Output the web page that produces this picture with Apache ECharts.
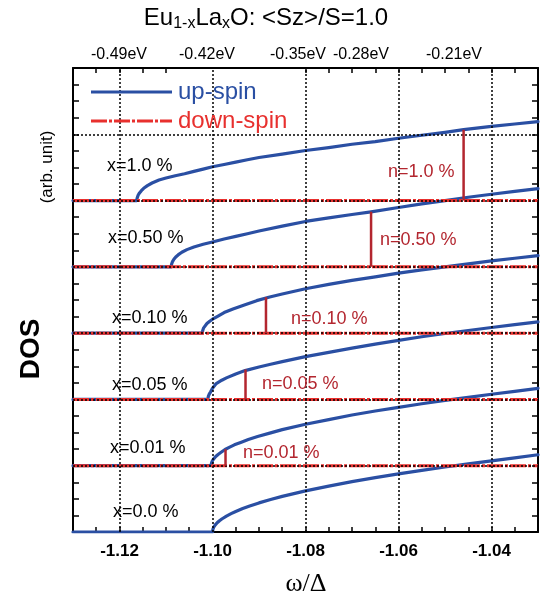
<!DOCTYPE html>
<html><head><meta charset="utf-8">
<script src="https://cdn.jsdelivr.net/npm/echarts@6/dist/echarts.min.js"></script>
<style>html,body{margin:0;padding:0;background:#fff}#c{width:544px;height:602px}</style>
</head><body><div id="c"></div>
<script>
// ---------- data ----------
const panelLabels = ['x=0.0 %','x=0.01 %','x=0.05 %','x=0.10 %','x=0.50 %','x=1.0 %'];
const panelOffsets = [0,1,2,3,4,5];

// up-spin DOS (omega/Delta, DOS) per doping
const upW_00 = [-1.13,-1.1,-1.0999,-1.0997,-1.0994,-1.099,-1.0985,-1.098,-1.097,-1.096,-1.095,-1.0935,-1.092,-1.09,-1.0875,-1.085,-1.08,-1.075,-1.07,-1.065,-1.06,-1.055,-1.05,-1.045,-1.04,-1.035,-1.03];
const upD_00 = [0,0,0.044,0.076,0.107,0.139,0.17,0.196,0.24,0.277,0.31,0.354,0.392,0.439,0.49,0.537,0.62,0.693,0.76,0.82,0.877,0.93,0.98,1.028,1.074,1.118,1.165];
const upW_01 = [-1.13,-1.1003,-1.1002,-1.1,-1.0997,-1.0993,-1.0988,-1.0983,-1.0973,-1.0963,-1.0953,-1.0938,-1.0923,-1.0903,-1.0875,-1.085,-1.08,-1.075,-1.07,-1.065,-1.06,-1.055,-1.05,-1.045,-1.04,-1.035,-1.03];
const upD_01 = [0,0,0.044,0.076,0.107,0.139,0.17,0.196,0.245,0.28,0.315,0.355,0.395,0.44,0.495,0.545,0.625,0.695,0.765,0.825,0.88,0.935,0.985,1.032,1.078,1.122,1.168];
const upW_05 = [-1.13,-1.101,-1.1009,-1.1007,-1.1004,-1.1,-1.0992,-1.098,-1.097,-1.095,-1.093,-1.09,-1.0875,-1.085,-1.08,-1.075,-1.07,-1.065,-1.06,-1.055,-1.05,-1.045,-1.04,-1.035,-1.03];
const upD_05 = [0,0,0.045,0.08,0.115,0.17,0.24,0.29,0.325,0.385,0.435,0.49,0.53,0.57,0.645,0.71,0.775,0.835,0.89,0.945,0.995,1.04,1.085,1.128,1.17];
const upW_10 = [-1.13,-1.1022,-1.1021,-1.1019,-1.1016,-1.1012,-1.1006,-1.1,-1.099,-1.0975,-1.0956,-1.093,-1.0905,-1.0877,-1.085,-1.08,-1.075,-1.07,-1.065,-1.06,-1.055,-1.05,-1.045,-1.04,-1.035,-1.03];
const upD_10 = [0,0,0.04,0.08,0.11,0.145,0.18,0.21,0.25,0.31,0.365,0.43,0.49,0.545,0.59,0.67,0.735,0.795,0.85,0.905,0.955,1.0,1.045,1.09,1.13,1.17];
const upW_50 = [-1.13,-1.1089,-1.1088,-1.1086,-1.1083,-1.1079,-1.1074,-1.1066,-1.1055,-1.104,-1.102,-1.1,-1.0975,-1.095,-1.0925,-1.09,-1.085,-1.08,-1.075,-1.07,-1.0659,-1.06,-1.055,-1.05,-1.045,-1.04,-1.035,-1.03];
const upD_50 = [0,0,0.04,0.08,0.115,0.15,0.18,0.22,0.26,0.30,0.34,0.375,0.42,0.46,0.50,0.54,0.615,0.685,0.74,0.79,0.83,0.895,0.95,1.0,1.05,1.095,1.14,1.18];
const upW_100 = [-1.13,-1.1163,-1.1162,-1.116,-1.1157,-1.1153,-1.1148,-1.114,-1.113,-1.1115,-1.11,-1.108,-1.106,-1.104,-1.102,-1.1,-1.0975,-1.095,-1.0925,-1.09,-1.085,-1.08,-1.075,-1.07,-1.065,-1.06,-1.055,-1.05,-1.046,-1.04,-1.035,-1.03];
const upD_100 = [0,0,0.04,0.08,0.115,0.15,0.185,0.225,0.265,0.31,0.34,0.375,0.405,0.44,0.475,0.51,0.545,0.58,0.615,0.65,0.70,0.755,0.80,0.85,0.89,0.94,0.985,1.03,1.07,1.12,1.155,1.19];

// down-spin DOS is zero over the whole window (doped panels)
const downW = [-1.13,-1.03];
const downD = [0,0];
const downPanels = [1,2,3,4,5];

// filling n markers
const nLabels = ['n=0.01 %','n=0.05 %','n=0.10 %','n=0.50 %','n=1.0 %'];
const nOmega  = [-1.0972,-1.0929,-1.0885,-1.0659,-1.046];
const nHeight = [0.25,0.45,0.54,0.83,1.07];
const nPanel  = [1,2,3,4,5];

// axes
const xTicks = [-1.12,-1.10,-1.08,-1.06,-1.04];
const topTickLabels = ['-0.49eV','-0.42eV','-0.35eV','-0.28eV','-0.21eV'];
const yGridLines = [1,2,3,4,5,6];
const legendNames = ['up-spin','down-spin'];

// ---------- styles / layout ----------
const BLUE = '#2a4fa3', RED = '#e8302e', DARKRED = '#b3262f';
const FONT = 'Liberation Sans, Arial, sans-serif';
const RED_DASH = [16,2,3,2];
const panelLabelPos = [[113,512],[110,448],[112,385],[112,318],[108,238],[107,166]];
const nLabelPos = [[243,453],[262,384],[291,319],[380,240],[388,172]];
const topLabelX = [119,207,298,361,454];

const upSets = [[upW_00,upD_00],[upW_01,upD_01],[upW_05,upD_05],[upW_10,upD_10],[upW_50,upD_50],[upW_100,upD_100]];

const series = [];
// dotted grid lines
series.push({
  type:'line', data:[], silent:true, z:1,
  markLine:{silent:true, symbol:'none', label:{show:false}, animation:false,
    lineStyle:{color:'#000', type:[2,2], width:1.5},
    data: xTicks.map(v=>({xAxis:v})).concat(yGridLines.map(v=>({yAxis:v})))}
});
upSets.forEach((s,i)=>{
  series.push({
    name:'up-spin', type:'line', showSymbol:false, symbol:'none', z:3, animation:false,
    lineStyle:{color:BLUE, width:3.2, join:'round', cap:'round'},
    data: s[0].map((w,j)=>[w, panelOffsets[i]+s[1][j]])
  });
});
downPanels.forEach(k=>{
  series.push({
    name:'down-spin', type:'line', showSymbol:false, symbol:'none', z:4, animation:false,
    lineStyle:{color:RED, width:3, type:RED_DASH},
    data: downW.map((w,j)=>[w, k+downD[j]])
  });
});
nOmega.forEach((w,i)=>{
  series.push({
    name:'n', type:'line', showSymbol:false, symbol:'none', z:5, animation:false,
    lineStyle:{color:DARKRED, width:2.5},
    data:[[w,nPanel[i]],[w,nPanel[i]+nHeight[i]]]
  });
});

const graphics = [];
// white box behind legend text
graphics.push({type:'rect', z:2, shape:{x:174, y:69, width:126, height:66}, style:{fill:'#fff'}, silent:true});
// legend
graphics.push({type:'line', z:10, shape:{x1:91, y1:92, x2:172, y2:92}, style:{stroke:BLUE, lineWidth:3.2}});
graphics.push({type:'line', z:10, shape:{x1:91, y1:121, x2:172, y2:121}, style:{stroke:RED, lineWidth:3, lineDash:RED_DASH}});
graphics.push({type:'text', z:10, x:178, y:92, style:{text:legendNames[0], font:'24px '+FONT, fill:BLUE, verticalAlign:'middle'}});
graphics.push({type:'text', z:10, x:178, y:121, style:{text:legendNames[1], font:'24px '+FONT, fill:RED, verticalAlign:'middle'}});
// title
graphics.push({type:'text', z:10, x:266, y:4, style:{
  text:'Eu{s|1-x}La{s|x}O: <Sz>/S=1.0', font:'24px '+FONT, fill:'#000', align:'center',
  rich:{s:{fontSize:16, fontFamily:FONT, fill:'#000', padding:[12,0,0,0]}}
}});
topTickLabels.forEach((t,i)=>graphics.push({type:'text', z:10, x:topLabelX[i], y:55, style:{
  text:t, font:'16px '+FONT, fill:'#000', align:'center', verticalAlign:'middle'}}));
panelLabels.forEach((t,i)=>graphics.push({type:'text', x:panelLabelPos[i][0], y:panelLabelPos[i][1], z:10, style:{
  text:t, font:'18px '+FONT, fill:'#000', align:'left', verticalAlign:'middle'}}));
nLabels.forEach((t,i)=>graphics.push({type:'text', x:nLabelPos[i][0], y:nLabelPos[i][1], z:10, style:{
  text:t, font:'18px '+FONT, fill:DARKRED, align:'left', verticalAlign:'middle'}}));
graphics.push({type:'text', z:10, x:31, y:349, rotation:Math.PI/2, style:{
  text:'DOS', font:'bold 28px '+FONT, fill:'#000', align:'center', verticalAlign:'middle'}});
graphics.push({type:'text', z:10, x:47, y:167, rotation:Math.PI/2, style:{
  text:'(arb. unit)', font:'17px '+FONT, fill:'#000', align:'center', verticalAlign:'middle'}});
graphics.push({type:'text', z:10, x:306, y:584, style:{
  text:'ω/Δ', font:'26px Liberation Serif, Times New Roman, serif', fill:'#000', align:'center', verticalAlign:'middle'}});

const axisLine = {show:true, onZero:false, lineStyle:{color:'#000', width:2}};
const xBase = {type:'value', min:-1.13, max:-1.03, interval:0.005, axisLine,
  axisTick:{inside:true, length:5, lineStyle:{color:'#000', width:1.5}}, splitLine:{show:false}};
const yBase = {type:'value', min:0, max:7, interval:0.25, axisLine,
  axisTick:{inside:true, length:6, lineStyle:{color:'#000', width:1.5}}, splitLine:{show:false}, axisLabel:{show:false}};

const option = {
  animation:false,
  grid:{left:73, right:6, top:68, bottom:70},
  xAxis:[
    Object.assign({}, xBase, {position:'bottom', axisLabel:{show:true, margin:11, fontSize:17, fontWeight:'bold', fontFamily:FONT, color:'#000',
      formatter:v=>{const k=Math.round(v/0.005); return (k%4===0)? v.toFixed(2):'';}}}),
    Object.assign({}, xBase, {position:'top', axisLabel:{show:false}})
  ],
  yAxis:[
    Object.assign({}, yBase, {position:'left'}),
    Object.assign({}, yBase, {position:'right'})
  ],
  series,
  graphic:graphics
};
const chart = echarts.init(document.getElementById('c'), null, {renderer:'canvas'});
chart.setOption(option);
</script></body></html>
